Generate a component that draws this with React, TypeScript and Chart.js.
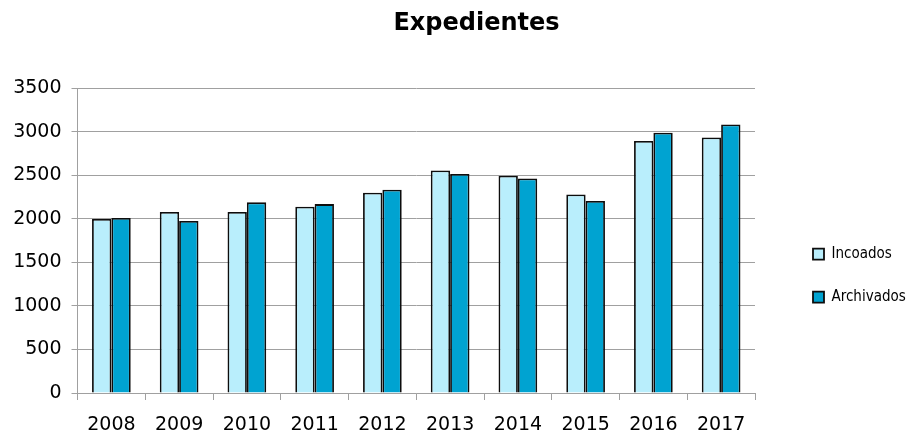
import React, { useEffect, useRef } from "react";
import { Chart, registerables } from "chart.js";

Chart.register(...registerables);

const categories = ["2008", "2009", "2010", "2011", "2012", "2013", "2014", "2015", "2016", "2017"];
const incoados = [2000, 2080, 2080, 2140, 2300, 2555, 2495, 2280, 2895, 2935];
const archivados = [2010, 1975, 2190, 2170, 2335, 2515, 2465, 2205, 2990, 3085];
const seriesNames = ["Incoados", "Archivados"];
const titleText = "Expedientes";
const yMin = 0;
const yMax = 3500;
const yStep = 500;

const legendFamily = "'DejaVu Sans Condensed', 'Liberation Sans Narrow', sans-serif";
const legendSize = 15;

export default function App() {
  const ref = useRef<HTMLCanvasElement | null>(null);
  useEffect(() => {
    if (!ref.current) return;
    const mctx = document.createElement("canvas").getContext("2d")!;
    mctx.font = `${legendSize}px ${legendFamily}`;
    const tw = Math.max(...seriesNames.map((n) => mctx.measureText(n).width));
    // place legend box at x≈813: box x = W - padR - L + padding, L = padding + 11 + size/2 + tw + 10
    const padR = 909 - 813 - 11 - legendSize / 2 - tw - 10;

    const titleShift = {
      id: "titleShift",
      afterLayout(chart: any) {
        const tb = chart.titleBlock;
        if (tb) {
          tb.left = 44;
          tb.right = 909;
        }
      },
    };

    const chart = new Chart(ref.current, {
      type: "bar",
      data: {
        labels: categories,
        datasets: [
          {
            label: seriesNames[0],
            data: incoados,
            backgroundColor: "#B9EEFC",
            borderColor: "#0d0d0d",
            borderWidth: 1.8,
            categoryPercentage: 0.571,
            barPercentage: 1.0,
          },
          {
            label: seriesNames[1],
            data: archivados,
            backgroundColor: "#00A3D1",
            borderColor: "#0d0d0d",
            borderWidth: 1.8,
            categoryPercentage: 0.571,
            barPercentage: 1.0,
          },
        ],
      },
      plugins: [titleShift],
      options: {
        animation: false,
        responsive: true,
        maintainAspectRatio: false,
        layout: { padding: { left: 0, right: padR, top: 0, bottom: 0 } },
        plugins: {
          title: {
            display: true,
            text: titleText,
            color: "#000",
            font: { family: "'DejaVu Sans', Verdana, sans-serif", size: 24, weight: "bold" },
            padding: { top: 9, bottom: 50.5 },
          },
          legend: {
            display: true,
            position: "right",
            align: "center",
            title: {
              display: true,
              text: "",
              font: { size: 12 },
              padding: { top: 102, bottom: 0 },
            },
            labels: {
              boxWidth: 11,
              boxHeight: 11,
              padding: 28,
              color: "#000",
              font: { family: legendFamily, size: legendSize },
            },
          },
          tooltip: { enabled: false },
        },
        scales: {
          x: {
            offset: true,
            grid: { display: true, drawOnChartArea: false, drawTicks: true, tickLength: 7, color: "#a0a0a0", offset: true },
            border: { display: true, color: "#a0a0a0", width: 1 },
            ticks: {
              color: "#000",
              padding: 14,
              maxRotation: 0,
              font: { family: "'DejaVu Sans', Verdana, sans-serif", size: 19 },
            },
            afterFit: (s: any) => {
              s.height = 42;
            },
          },
          y: {
            min: yMin,
            max: yMax,
            grid: { display: true, drawOnChartArea: true, drawTicks: true, tickLength: 6, color: "#a0a0a0" },
            border: { display: true, color: "#a0a0a0", width: 1 },
            ticks: {
              stepSize: yStep,
              color: "#000",
              padding: 10,
              font: { family: "'DejaVu Sans', Verdana, sans-serif", size: 19 },
              callback: (v: any) => String(v),
            },
            afterFit: (s: any) => {
              s.width = 77.5;
            },
          },
          yR: {
            type: "linear",
            position: "right",
            display: true,
            grid: { display: false },
            border: { display: false },
            ticks: { display: false },
            afterFit: (s: any) => {
              const lg = s.chart.legend;
              s.width = Math.max(0, s.chart.width - padR - 755 - (lg ? lg.width : 0));
            },
          },
        },
      },
    });
    return () => chart.destroy();
  }, []);
  return (
    <div style={{ position: "absolute", left: 0, top: 0, width: 909, height: 435, background: "#fff" }}>
      <canvas ref={ref} />
    </div>
  );
}
